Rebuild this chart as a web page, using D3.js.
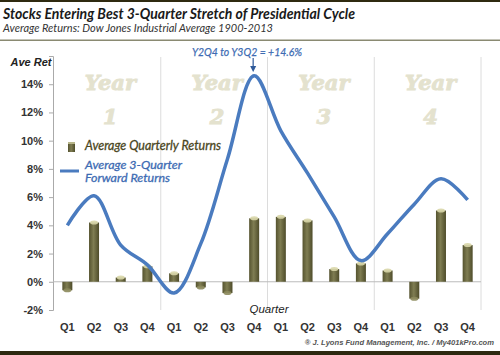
<!DOCTYPE html>
<html><head><meta charset="utf-8">
<script src="https://cdn.jsdelivr.net/npm/d3@7"></script>
<style>body{margin:0;background:#fff}svg{display:block}</style>
</head><body>
<script>
const quarters = ["Q1","Q2","Q3","Q4","Q1","Q2","Q3","Q4","Q1","Q2","Q3","Q4","Q1","Q2","Q3","Q4"];
const years = ["1","2","3","4"];
const avgQuarterly = [-0.6,4.2,0.3,1.1,0.6,-0.4,-0.8,4.5,4.6,4.35,0.9,1.3,0.8,-1.2,5.05,2.6];
const fwd3Q = [4.0,6.1,2.6,1.2,-0.8,2.7,8.7,14.6,10.7,7.7,4.6,1.5,3.4,5.5,7.3,5.8];
const yTicks = [-2,0,2,4,6,8,10,12,14];

const W=500,H=355;
const svg=d3.select("body").append("svg").attr("width",W).attr("height",H);
const defs=svg.append("defs");
const g1=defs.append("linearGradient").attr("id","barg").attr("x1","0").attr("x2","1").attr("y1","0").attr("y2","0");
g1.append("stop").attr("offset","0").attr("stop-color","#55532f");
g1.append("stop").attr("offset","0.45").attr("stop-color","#7f7d52");
g1.append("stop").attr("offset","1").attr("stop-color","#4e4c2a");

const x=d3.scaleBand().domain(d3.range(16)).range([54,481]);
const xc=i=>x(i)+x.bandwidth()/2;
const y=d3.scaleLinear().domain([-2,16]).range([310,56]);

// borders
svg.append("rect").attr("x",0).attr("y",0).attr("width",W).attr("height",2).attr("fill","#2f2a10");
svg.append("rect").attr("x",0).attr("y",351).attr("width",W).attr("height",4).attr("fill","#2d2810");
svg.append("rect").attr("x",0).attr("y",39.5).attr("width",W).attr("height",1.5).attr("fill","#8a8a72");

// title
svg.append("text").attr("x",3).attr("y",19).attr("font-family","Lato").attr("font-weight","bold").attr("font-style","italic")
  .attr("font-size",15).attr("fill","#1a1a1a").attr("textLength",352).attr("lengthAdjust","spacingAndGlyphs")
  .text("Stocks Entering Best 3-Quarter Stretch of Presidential Cycle");
svg.append("text").attr("x",3).attr("y",32).attr("font-family","Lato").attr("font-style","italic")
  .attr("font-size",11.5).attr("fill","#333").attr("textLength",270).attr("lengthAdjust","spacingAndGlyphs")
  .text("Average Returns: Dow Jones Industrial Average 1900-2013");

// year separators
[4,8,12,16].forEach(k=>{
  const xx=54+k*x.step();
  svg.append("line").attr("x1",xx).attr("x2",xx).attr("y1",57).attr("y2",310).attr("stroke","#dcdcdc").attr("stroke-width",1);
});

// year watermarks
years.forEach((yr,k)=>{
  const cx=54+(k*4+2)*x.step()+3;
  const t=svg.append("text").attr("text-anchor","middle").attr("font-family","DejaVu Serif").attr("font-weight","bold")
    .attr("font-style","italic").attr("font-size",21).attr("fill","#e4e2ce").attr("stroke","#e4e2ce").attr("stroke-width",0.9);
  t.append("tspan").attr("x",cx).attr("y",90).text("Year");
  t.append("tspan").attr("x",cx).attr("y",124).text(yr);
});

// y axis
const ya=svg.append("g").attr("transform","translate(53,0)")
  .call(d3.axisLeft(y).tickValues(yTicks).tickSize(4).tickPadding(6).tickFormat(d=>d+"%"));
ya.select(".domain").attr("stroke","#aaa").attr("d","M-4,56.5H0.5V310.5H-4");
ya.selectAll(".tick line").attr("stroke","#aaa");
ya.selectAll(".tick text").attr("font-family","Liberation Sans").attr("font-weight","bold").attr("font-size",11).attr("fill","#333");

svg.append("text").attr("x",31).attr("y",66).attr("text-anchor","middle").attr("font-family","Liberation Sans")
  .attr("font-weight","bold").attr("font-style","italic").attr("font-size",11).attr("fill","#222").text("Ave Ret");

// zero line
svg.append("line").attr("x1",53).attr("x2",481).attr("y1",y(0)).attr("y2",y(0)).attr("stroke","#bbb").attr("stroke-width",1);

// bars
const bw=10;
const bars=svg.append("g");
avgQuarterly.forEach((v,i)=>{
  const cx=xc(i);
  const y0=y(Math.max(0,v)), y1=y(Math.min(0,v));
  bars.append("rect").attr("x",cx-bw/2).attr("y",y0).attr("width",bw).attr("height",Math.max(1,y1-y0)).attr("fill","url(#barg)");
  bars.append("ellipse").attr("cx",cx).attr("cy",y(v)).attr("rx",bw/2-1).attr("ry",2).attr("fill", v>=0?"#d8d6a8":"#8c8a5c").attr("opacity",0.9);
});

// line
const line=d3.line().x((d,i)=>xc(i)).y(d=>y(d)).curve(d3.curveCatmullRom.alpha(0.5));
svg.append("path").attr("d",line(fwd3Q)).attr("fill","none").attr("stroke","#4a7bbf").attr("stroke-width",3.5).attr("stroke-linejoin","round");

// annotation
svg.append("text").attr("x",247).attr("y",56).attr("text-anchor","middle").attr("font-family","Lato").attr("font-style","italic")
  .attr("font-size",12).attr("fill","#3d6bb3").attr("stroke","#3d6bb3").attr("stroke-width",0.25)
  .attr("textLength",110).attr("lengthAdjust","spacingAndGlyphs").text("Y2Q4 to Y3Q2 = +14.6%");
const ax=xc(7)-1;
svg.append("line").attr("x1",ax).attr("x2",ax).attr("y1",58).attr("y2",69).attr("stroke","#2f5a9a").attr("stroke-width",1.2);
svg.append("path").attr("d",`M${ax-3},66L${ax},72L${ax+3},66Z`).attr("fill","#2f5a9a");

// legend
svg.append("rect").attr("x",68).attr("y",142).attr("width",7).attr("height",10).attr("fill","url(#barg)");
svg.append("rect").attr("x",68).attr("y",142).attr("width",7).attr("height",2).attr("fill","#b8b68a");
svg.append("text").attr("x",85).attr("y",150).attr("font-family","Lato").attr("font-style","italic").attr("font-size",12.5)
  .attr("fill","#4a4622").attr("stroke","#4a4622").attr("stroke-width",0.3)
  .attr("textLength",136).attr("lengthAdjust","spacingAndGlyphs").text("Average Quarterly Returns");
svg.append("line").attr("x1",60).attr("x2",79).attr("y1",171).attr("y2",171).attr("stroke","#4a7bbf").attr("stroke-width",3);
svg.append("text").attr("x",85).attr("y",168.5).attr("font-family","Lato").attr("font-style","italic").attr("font-size",12)
  .attr("fill","#3d6bb3").attr("stroke","#3d6bb3").attr("stroke-width",0.3)
  .attr("textLength",97).attr("lengthAdjust","spacingAndGlyphs").text("Average 3-Quarter");
svg.append("text").attr("x",85).attr("y",182).attr("font-family","Lato").attr("font-style","italic").attr("font-size",12)
  .attr("fill","#3d6bb3").attr("stroke","#3d6bb3").attr("stroke-width",0.3)
  .attr("textLength",85).attr("lengthAdjust","spacingAndGlyphs").text("Forward Returns");

// x labels
svg.append("text").attr("x",269).attr("y",313).attr("text-anchor","middle").attr("font-family","Liberation Sans")
  .attr("font-style","italic").attr("font-size",11.5).attr("fill","#222").text("Quarter");
quarters.forEach((q,i)=>{
  svg.append("text").attr("x",xc(i)).attr("y",331).attr("text-anchor","middle").attr("font-family","Liberation Sans")
    .attr("font-weight","bold").attr("font-size",11).attr("fill","#333").text(q);
});
svg.append("text").attr("x",494).attr("y",345).attr("text-anchor","end").attr("font-family","Liberation Sans")
  .attr("font-weight","bold").attr("font-style","italic").attr("font-size",7.6).attr("fill","#555")
  .text("® J. Lyons Fund Management, Inc. / My401kPro.com");
</script>
</body></html>
